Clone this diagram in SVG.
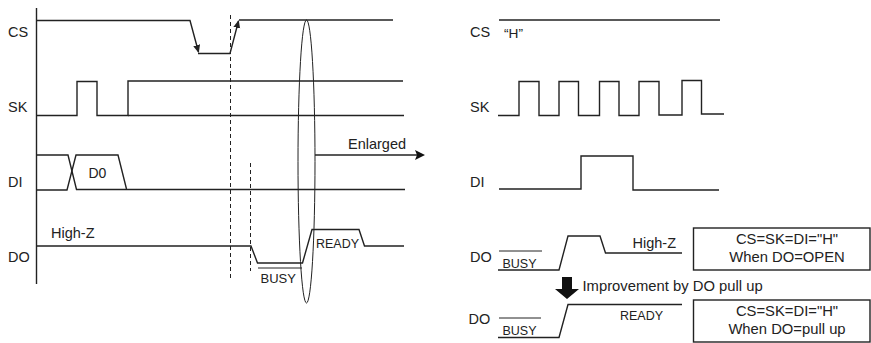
<svg xmlns="http://www.w3.org/2000/svg" width="871" height="343" viewBox="0 0 871 343">
<style>
text{font-family:"Liberation Sans",Arial,sans-serif;font-size:14.500px;fill:#222}
.s{font-size:12.500px}
.w{fill:none;stroke:#222;stroke-width:1.4}
.t{fill:none;stroke:#222;stroke-width:1}
.d{fill:none;stroke:#222;stroke-width:1;stroke-dasharray:4 3}
</style>
<defs>
<marker id="a" markerWidth="10" markerHeight="10" refX="7" refY="3.5" orient="auto" markerUnits="userSpaceOnUse"><path d="M0 0 L8 3.5 L0 7 Z" fill="#222"/></marker>
</defs>
<g id="connectors">
<path class="w" d="M36.500 8V284"/>
<path class="w" d="M36 20.500H190L198.500 52" marker-end="url(#a)"/>
<path class="w" d="M198 53.500H230L238.500 21" marker-end="url(#a)"/>
<path class="w" d="M239 20H393"/>
<path class="w" d="M36 115.500H77V81.500H97V115.500H128V81H403"/>
<path class="w" d="M128 115.500H404"/>
<path class="w" d="M36 155H68L76.500 189.500H405"/>
<path class="w" d="M36 190H67L76 155H118L126.500 189"/>
<path class="w" d="M37 246H251L257.500 263H302.500L312 229.500H359L364.500 246H404"/>
<path class="t" d="M258 268H302"/>
<path class="d" d="M230.500 15V279"/>
<path class="d" d="M250.500 163V271"/>
<ellipse class="t" cx="306.500" cy="161.500" rx="8.500" ry="141.500"/>
<path class="w" d="M315 155H417"/>
<path d="M415 150L425 155L415 160L417 155Z" fill="#111"/>
<path class="w" d="M499 20H720"/>
<path class="w" d="M498 115.500H519V81.500H539V115.500H559V81.500H578.500V115.500H599.500V81.500H619V115.500H639V81.500H659V115H682V80.500H701.500V114H724"/>
<path class="w" d="M499 189H581V156H633V190H719"/>
<path class="t" d="M499 251H542"/>
<path class="w" d="M498 270H559L568 236H600L605.500 253H682"/>
<path class="t" d="M499 318H541"/>
<path class="w" d="M498 337.500H559L568 304.500H682"/>
<path d="M562 277H572V289H579L567 299L555 289H562Z" fill="#111"/>
</g>
<g id="labels-left">
<text x="8" y="37">CS</text>
<text x="8" y="112">SK</text>
<text x="8" y="187">DI</text>
<text x="8" y="262">DO</text>
<text x="88.500" y="178" style="font-size:14px">D0</text>
<text x="51" y="238">High-Z</text>
<text class="s" x="260.500" y="283" style="font-size:13px">BUSY</text>
<text class="s" x="316" y="248">READY</text>
<text x="348" y="149">Enlarged</text>
</g>
<g id="labels-right">
<text x="470" y="37">CS</text>
<text x="504" y="38" style="font-size:13.700px">“H”</text>
<text x="470" y="112">SK</text>
<text x="470" y="187">DI</text>
<text x="470" y="262">DO</text>
<text x="468.500" y="323.500">DO</text>
<text class="s" x="502.500" y="267.500">BUSY</text>
<text class="s" x="502.500" y="334.500">BUSY</text>
<text x="632.500" y="248">High-Z</text>
<text class="s" x="620" y="319.500">READY</text>
<text x="582.500" y="291" style="font-size:14.800px">Improvement by DO pull up</text>
</g>
<g id="box-open">
<rect class="w" x="693.500" y="228" width="176.500" height="42"/>
<text x="787" y="244" text-anchor="middle" style="font-size:14.800px">CS=SK=DI="H"</text>
<text x="787" y="262" text-anchor="middle" style="font-size:14.800px">When DO=OPEN</text>
</g>
<g id="box-pullup">
<rect class="w" x="693.500" y="300" width="176.500" height="42"/>
<text x="787" y="316" text-anchor="middle" style="font-size:14.800px">CS=SK=DI="H"</text>
<text x="787" y="334" text-anchor="middle" style="font-size:14.800px">When DO=pull up</text>
</g>
</svg>
